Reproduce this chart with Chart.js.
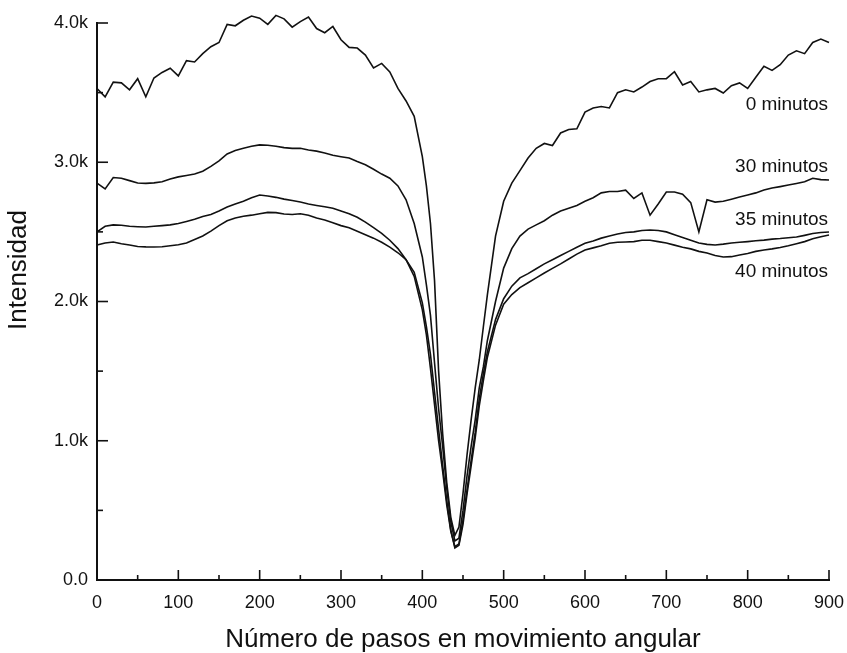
<!DOCTYPE html>
<html><head><meta charset="utf-8">
<script src="https://cdn.jsdelivr.net/npm/chart.js@4.4.1/dist/chart.umd.min.js"></script>
<style>html,body{margin:0;padding:0;background:#fff;}</style>
</head><body>
<canvas id="c" width="847" height="653"></canvas>
<script>
// Step positions (x axis: "Número de pasos")
const steps = [0,10,20,30,40,50,60,70,80,90,100,110,120,130,140,150,160,170,180,190,200,
  210,220,230,240,250,260,270,280,290,300,310,320,330,340,350,360,370,380,390,400,
  405,410,415,420,425,430,435,440,445,450,455,460,465,470,475,480,
  490,500,510,520,530,540,550,560,570,580,590,600,610,620,630,640,650,660,670,680,690,700,
  710,720,730,740,750,760,770,780,790,800,810,820,830,840,850,860,870,880,890,900];

const min0 = [3530,3470,3575,3570,3520,3600,3470,3605,3645,3675,3620,3730,3720,3780,3830,3860,3990,3980,4020,4050,4035,
  3990,4055,4030,3970,4010,4043,3960,3930,3975,3880,3825,3820,3770,3677,3710,3648,3530,3440,3330,3040,
  2830,2560,2150,1500,1050,700,450,320,380,620,900,1150,1380,1580,1817,2050,
  2470,2720,2850,2940,3030,3100,3135,3120,3210,3235,3240,3360,3390,3400,3390,3500,3520,3505,3540,3580,3600,3600,
  3650,3555,3580,3505,3520,3530,3497,3550,3570,3530,3610,3690,3660,3700,3770,3800,3780,3860,3885,3860];

const min30 = [2850,2808,2890,2885,2868,2851,2848,2852,2860,2880,2895,2905,2915,2935,2970,3010,3060,3085,3100,3115,3125,
  3122,3115,3105,3100,3100,3088,3080,3066,3050,3040,3030,3005,2982,2950,2915,2885,2830,2730,2560,2320,
  2120,1900,1560,1230,960,660,420,280,300,500,750,960,1150,1380,1530,1720,
  2000,2240,2380,2470,2520,2550,2580,2620,2650,2670,2690,2720,2745,2780,2790,2790,2800,2740,2780,2620,2700,2786,
  2786,2770,2710,2500,2730,2714,2720,2735,2750,2765,2780,2800,2815,2825,2836,2848,2860,2885,2875,2872];

const min35 = [2500,2540,2550,2548,2540,2537,2535,2540,2545,2550,2560,2575,2590,2610,2625,2650,2678,2700,2720,2745,2765,
  2758,2748,2735,2725,2714,2700,2690,2680,2670,2650,2630,2605,2570,2530,2490,2440,2380,2300,2180,1940,
  1760,1520,1260,1000,780,540,350,240,260,430,650,860,1060,1300,1480,1640,
  1870,2020,2110,2170,2200,2235,2270,2300,2330,2360,2390,2418,2435,2455,2470,2485,2495,2500,2510,2513,2510,2500,
  2480,2460,2440,2420,2410,2406,2412,2420,2425,2430,2436,2441,2448,2452,2458,2463,2475,2488,2495,2499];

const min40 = [2406,2420,2427,2415,2406,2395,2392,2391,2393,2400,2408,2420,2445,2470,2505,2545,2580,2600,2612,2620,2630,
  2640,2638,2628,2625,2630,2620,2600,2585,2565,2545,2530,2505,2480,2455,2425,2391,2350,2300,2210,1990,
  1820,1620,1350,1080,820,570,360,230,250,400,620,820,1020,1250,1430,1600,
  1830,1980,2050,2100,2135,2170,2205,2238,2270,2305,2340,2370,2385,2400,2418,2425,2427,2430,2440,2440,2430,2420,
  2405,2390,2378,2360,2348,2330,2320,2322,2334,2345,2360,2370,2378,2388,2400,2415,2430,2450,2465,2477];

const seriesNames = ["0 minutos","30 minutos","35 minutos","40 minutos"];
const labelValues = [3375, 2930, 2549, 2176];
const xTicks = [0,100,200,300,400,500,600,700,800,900];
const xMinor = [50,150,250,350,450,550,650,750,850];
const yTicks = [0,1000,2000,3000,4000];
const yMinor = [500,1500,2500,3500];
const xTitle = "Número de pasos en movimiento angular";
const yTitle = "Intensidad";

const FONT = '"Liberation Sans", Arial, sans-serif';
const INK = '#111';

function toPts(vals){ return steps.map((s,i)=>({x:s,y:vals[i]})); }
const allSeries = [min0,min30,min35,min40];

const decor = {
  id:'decor',
  afterDraw(chart){
    const {ctx, chartArea:a, scales:{x,y}} = chart;
    ctx.save();
    ctx.strokeStyle = INK; ctx.lineWidth = 1.6;
    const seg=(x1,y1,x2,y2)=>{ctx.beginPath();ctx.moveTo(x1,y1);ctx.lineTo(x2,y2);ctx.stroke();};
    xTicks.forEach(v=>{const p=x.getPixelForValue(v); seg(p,a.bottom,p,a.bottom-10);});
    xMinor.forEach(v=>{const p=x.getPixelForValue(v); seg(p,a.bottom,p,a.bottom-5);});
    yTicks.forEach(v=>{const p=y.getPixelForValue(v); seg(a.left,p,a.left+11,p);});
    yMinor.forEach(v=>{const p=y.getPixelForValue(v); seg(a.left,p,a.left+6,p);});
    ctx.fillStyle = INK;
    // series labels
    ctx.font = '19px ' + FONT;
    ctx.textAlign = 'right'; ctx.textBaseline = 'alphabetic';
    seriesNames.forEach((n,i)=>{ ctx.fillText(n, a.right-1, y.getPixelForValue(labelValues[i])); });
    // axis titles
    ctx.font = '26px ' + FONT;
    ctx.textAlign = 'center';
    ctx.fillText(xTitle, (a.left+a.right)/2, 647);
    ctx.translate(19, 270);
    ctx.rotate(-Math.PI/2);
    ctx.textBaseline = 'middle';
    ctx.fillText(yTitle, 0, 0);
    ctx.restore();
  }
};

new Chart(document.getElementById('c'), {
  type:'line',
  data:{ datasets: allSeries.map((s,i)=>({
    label: seriesNames[i], data: toPts(s), borderColor: INK, borderWidth: 1.6,
    pointRadius: 0, tension: 0, fill:false, clip:false
  }))},
  options:{
    responsive:false, animation:false, devicePixelRatio:1,
    layout:{ padding:{ top:23, right:18, left:0, bottom:0 } },
    plugins:{ legend:{display:false}, tooltip:{enabled:false} },
    scales:{
      x:{ type:'linear', min:0, max:900,
        afterFit(s){ s.height = 73; s.paddingRight = 0; s.paddingLeft = 0; },
        grid:{ display:false, drawTicks:false },
        border:{ display:true, color:INK, width:2 },
        ticks:{ stepSize:100, padding:12, color:INK, font:{ size:18, family:FONT }, maxRotation:0 }
      },
      y:{ min:0, max:4000,
        afterFit(s){ s.width = 97; s.paddingTop = 0; s.paddingBottom = 0; },
        grid:{ display:false, drawTicks:false },
        border:{ display:true, color:INK, width:2 },
        ticks:{ stepSize:1000, padding:9, color:INK, font:{ size:18, family:FONT },
          callback:(v)=> v===0 ? '0.0' : (v/1000).toFixed(1)+'k' }
      }
    }
  },
  plugins:[decor]
});
</script>
</body></html>
